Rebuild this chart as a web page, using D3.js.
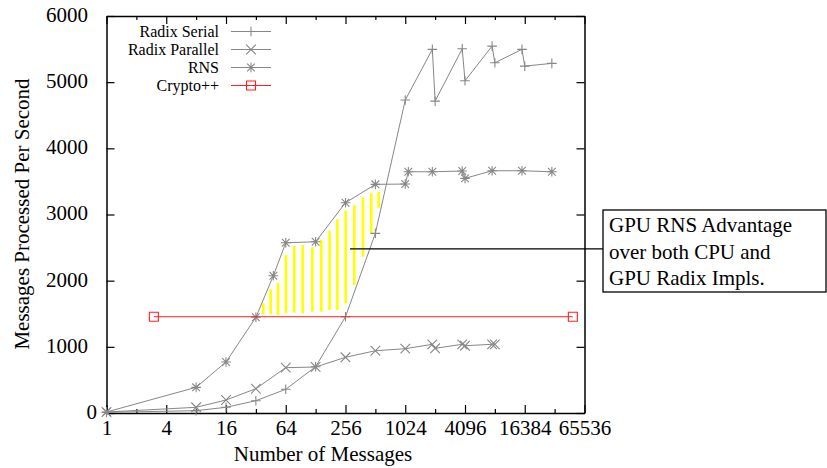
<!DOCTYPE html>
<html>
<head>
<meta charset="UTF-8">
<script src="https://d3js.org/d3.v7.min.js"></script>
<style>
	body { margin:0; background:#fff; }
	.Chart text { font-family:"Liberation Serif", "Times New Roman", serif; fill:#000; }
	.Axis path, .Axis line { stroke:#000; }
</style>
</head>
<body>
<svg class="Chart"></svg>
<script>
// values
var SerialN = [1, 8, 16, 32, 64, 128, 256, 512, 1024, 1920, 2048, 3840, 4096, 7680, 8192, 15360, 16384, 30720];
var SerialV = [10, 35, 86, 186, 358, 700, 1455, 2715, 4730, 5496, 4714, 5505, 5021, 5545, 5293, 5496, 5243, 5284];

var ParallelN = [1, 8, 16, 32, 64, 128, 256, 512, 1024, 1920, 2048, 3840, 4096, 7680, 8192];
var ParallelV = [15, 86, 196, 367, 685, 695, 842, 941, 972, 1038, 978, 1038, 1017, 1038, 1038];

var RnsN = [1, 8, 16, 32, 48, 64, 128, 256, 512, 1024, 1100, 1920, 3840, 4096, 7680, 15360, 30720];
var RnsV = [15, 388, 771, 1446, 2075, 2573, 2588, 3178, 3456, 3460, 3646, 3646, 3657, 3546, 3661, 3661, 3646];

var CryptoN = [3, 50000];
var CryptoV = [1455, 1455];

// yellow hatch strokes of the "advantage" area
var HatchN      = [38, 45.1, 53.5, 64.4, 78, 94.8, 118.5, 146, 177, 212, 257, 314, 384, 466, 553];
var HatchTop    = [1658, 1869, 1969, 2387, 2523, 2538, 2504, 2614, 2750, 2927, 3057, 3143, 3259, 3320, 3344];
var HatchBottom = [1496, 1491, 1481, 1506, 1516, 1506, 1531, 1531, 1556, 1556, 1658, 1934, 2362, 2705, 3093];

var XTicks = [1, 2, 4, 8, 16, 32, 64, 128, 256, 512, 1024, 2048, 4096, 8192, 16384, 32768, 65536];
var YTicks = [0, 1000, 2000, 3000, 4000, 5000, 6000];

var LegendNames = ["Radix Serial", "Radix Parallel", "RNS", "Crypto++"];
var NoteLines = ["GPU RNS Advantage", "over both CPU and", "GPU Radix Impls."];
var NoteAnchor = {"N":284, "V":2480};

var Width = 827, Height = 468;
var Left = 106.5, Right = 584.5, Top = 16, Bottom = 413;
var Grey = "#878787", Red = "#ff1f1f";

var XScale = d3.scaleLog().base(2).domain([1, 65536]).range([Left, Right]);
var YScale = d3.scaleLinear().domain([0, 6000]).range([Bottom, Top]);

var Chart = d3.select(".Chart").attr("width", Width).attr("height", Height);

// marker shapes, gnuplot style
function Marker(Shape, r)
{
	var p = "";
	if (Shape == "plus" || Shape == "star") p += "M" + (-r) + ",0H" + r + "M0," + (-r) + "V" + r;
	if (Shape == "cross" || Shape == "star")
	{
		var c = Shape == "star" ? r * 0.8 : r;
		p += "M" + (-c) + "," + (-c) + "L" + c + "," + c + "M" + (-c) + "," + c + "L" + c + "," + (-c);
	}
	if (Shape == "square") p += "M" + (-r) + "," + (-r) + "H" + r + "V" + r + "H" + (-r) + "Z";
	return p;
}

// hatch
var Hatch = HatchN.map(function(n, i){ return {"N":n, "T":HatchTop[i], "B":HatchBottom[i]}; });
Chart.append("g").selectAll("line").data(Hatch).enter().append("line")
	.attr("x1", function(d){ return XScale(d.N); })
	.attr("x2", function(d){ return XScale(d.N); })
	.attr("y1", function(d){ return YScale(d.T); })
	.attr("y2", function(d){ return YScale(d.B); })
	.attr("stroke", "#ffff00")
	.attr("stroke-width", 2.6);

// axes
function StyleAxis(g, Size)
{
	g.attr("class", "Axis").attr("font-family", null).attr("font-size", Size);
	g.select(".domain").attr("stroke-width", 1.5);
	g.selectAll(".tick line").attr("stroke-width", 1.2);
}

var XAxisBottom = d3.axisBottom(XScale).tickValues(XTicks).tickSizeInner(-8).tickSizeOuter(0).tickPadding(7)
	.tickFormat(function(d, i){ return i % 2 == 0 ? d : ""; });
var GB = Chart.append("g").attr("transform", "translate(0," + Bottom + ")").call(XAxisBottom);
StyleAxis(GB, 21);
GB.selectAll(".tick line").filter(function(d, i){ return i % 2 == 1; }).attr("y2", -4);

var XAxisTop = d3.axisTop(XScale).tickValues(XTicks).tickSizeInner(-8).tickSizeOuter(0).tickFormat("");
var GT = Chart.append("g").attr("transform", "translate(0," + Top + ")").call(XAxisTop);
StyleAxis(GT, 21);
GT.selectAll(".tick line").filter(function(d, i){ return i % 2 == 1; }).attr("y2", 4);

var YAxisLeft = d3.axisLeft(YScale).tickValues(YTicks).tickSizeInner(-8).tickSizeOuter(0).tickPadding(18.5)
	.tickFormat(d3.format("d"));
var GL = Chart.append("g").attr("transform", "translate(" + Left + ",0)").call(YAxisLeft);
StyleAxis(GL, 21);
GL.selectAll(".tick text").attr("dy", "0.26em");
GL.selectAll(".tick text").filter(function(d){ return d == 0; }).attr("x", -9.5);

var YAxisRight = d3.axisRight(YScale).tickValues(YTicks).tickSizeInner(-8).tickSizeOuter(0).tickFormat("");
var GR = Chart.append("g").attr("transform", "translate(" + Right + ",0)").call(YAxisRight);
StyleAxis(GR, 21);

// series
var Series = [
	{"N":SerialN, "V":SerialV, "Shape":"plus", "Color":Grey},
	{"N":ParallelN, "V":ParallelV, "Shape":"cross", "Color":Grey},
	{"N":RnsN, "V":RnsV, "Shape":"star", "Color":Grey},
	{"N":CryptoN, "V":CryptoV, "Shape":"square", "Color":Red}
];
var Line = d3.line().x(function(d){ return XScale(d[0]); }).y(function(d){ return YScale(d[1]); });

Series.forEach(function(s)
{
	var Pts = s.N.map(function(n, i){ return [n, s.V[i]]; });
	var G = Chart.append("g");
	G.append("path").attr("d", Line(Pts)).attr("fill", "none").attr("stroke", s.Color).attr("stroke-width", 1);
	G.selectAll(".Pt").data(Pts).enter().append("path")
		.attr("class", "Pt")
		.attr("transform", function(d){ return "translate(" + XScale(d[0]) + "," + YScale(d[1]) + ")"; })
		.attr("d", Marker(s.Shape, s.Shape == "square" ? 4.5 : 4.8))
		.attr("fill", "none")
		.attr("stroke", s.Color)
		.attr("stroke-width", 1.1);
});

// legend
var Legend = Chart.append("g").attr("font-size", 16);
LegendNames.forEach(function(Name, i)
{
	var y = 31.5 + i * 18;
	Legend.append("text").attr("x", 219).attr("y", y).attr("dy", "0.33em").attr("text-anchor", "end").text(Name);
	Legend.append("line").attr("x1", 231).attr("x2", 271).attr("y1", y).attr("y2", y)
		.attr("stroke", Series[i].Color).attr("stroke-width", 1);
	Legend.append("path").attr("transform", "translate(251," + y + ")")
		.attr("d", Marker(Series[i].Shape, Series[i].Shape == "square" ? 4.5 : 4.8))
		.attr("fill", "none").attr("stroke", Series[i].Color).attr("stroke-width", 1.1);
});

// axis titles
Chart.append("text").attr("x", 323).attr("y", 461).attr("text-anchor", "middle").attr("font-size", 21)
	.text("Number of Messages");
Chart.append("text").attr("transform", "translate(28.5,214) rotate(-90)").attr("text-anchor", "middle").attr("font-size", 21)
	.text("Messages Processed Per Second");

// annotation
var BoxX = 603, BoxY = 210, BoxW = 223, BoxH = 82;
Chart.append("line")
	.attr("x1", XScale(NoteAnchor.N)).attr("y1", YScale(NoteAnchor.V))
	.attr("x2", BoxX).attr("y2", YScale(NoteAnchor.V))
	.attr("stroke", "#000").attr("stroke-width", 1.2);
Chart.append("rect").attr("x", BoxX).attr("y", BoxY).attr("width", BoxW).attr("height", BoxH)
	.attr("fill", "none").attr("stroke", "#000").attr("stroke-width", 1.3);
NoteLines.forEach(function(t, i)
{
	Chart.append("text").attr("x", 609).attr("y", 232 + i * 26.5).attr("font-size", 21).text(t);
});
</script>
</body>
</html>
